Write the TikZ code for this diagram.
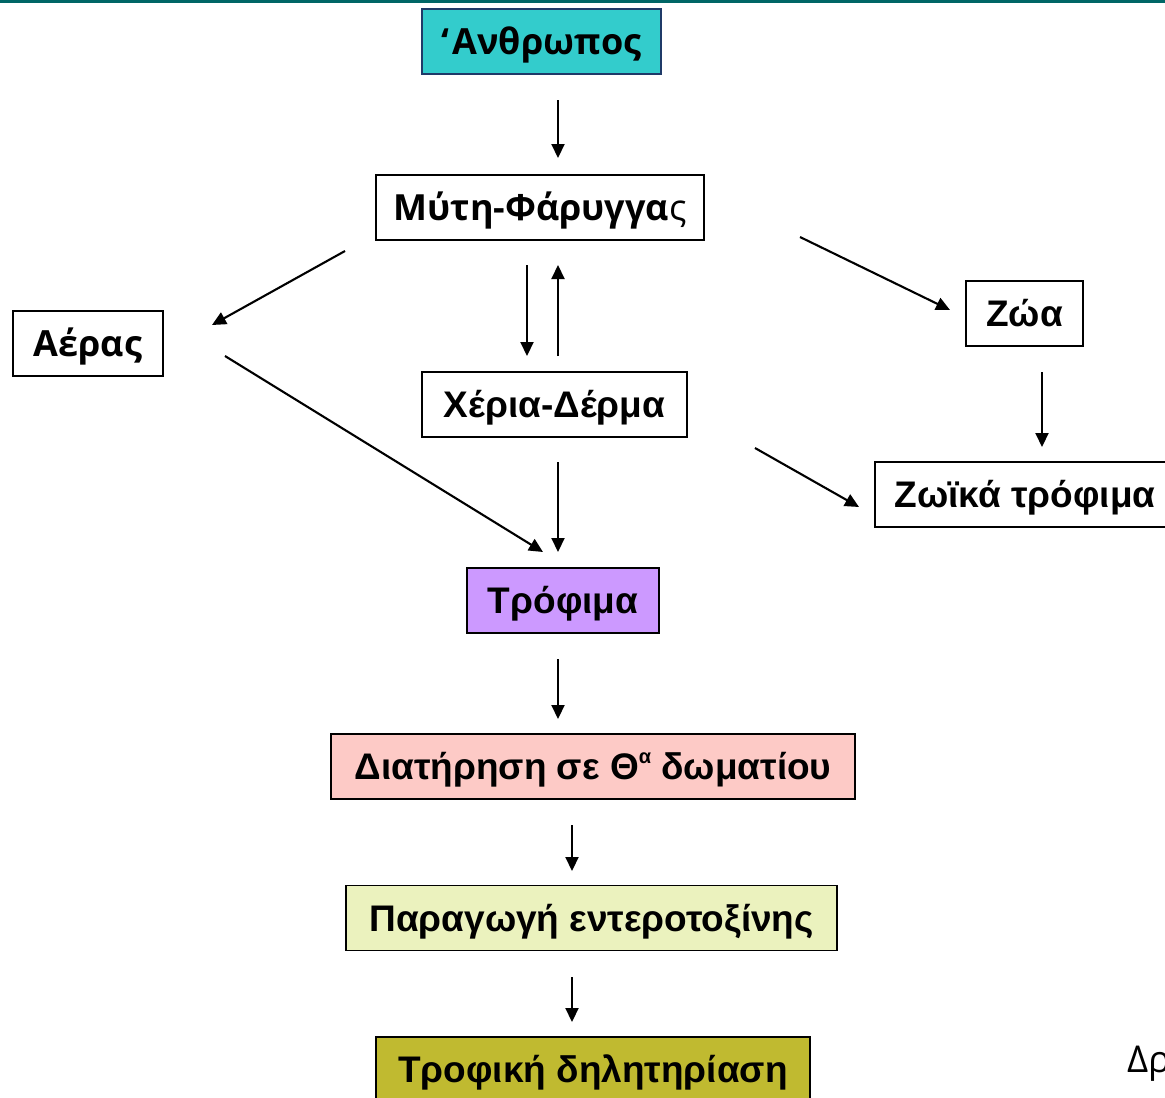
\documentclass[tikz,border=0pt]{standalone}
\usepackage{fontspec}
\setmainfont{Liberation Sans}
\newfontfamily\osans{Open Sans}
\usetikzlibrary{arrows.meta}
\definecolor{topline}{HTML}{006666}
\definecolor{cyanfill}{HTML}{33CCCC}
\definecolor{navyline}{HTML}{1F3A68}
\definecolor{violetfill}{HTML}{CC99FF}
\definecolor{pinkfill}{HTML}{FDCAC6}
\definecolor{limefill}{HTML}{EBF2BE}
\definecolor{olivefill}{HTML}{C0BA30}
\begin{document}
\begin{tikzpicture}[x=1pt,y=-1pt,
  box/.style={draw=black,line width=1.5pt,minimum height=65pt,inner sep=0pt,
    text height=26.5pt,text depth=0pt,
    font=\fontsize{37}{42}\selectfont\bfseries},
  obox/.style={box,text height=25.7pt,font=\fontsize{36}{42}\selectfont\osans\bfseries},
  arr/.style={line width=2.1pt,-{Triangle[length=14pt,width=13pt]}}]
\clip (0,0) rectangle (1165,1098);
\useasboundingbox (0,0) rectangle (1165,1098);
\fill[topline] (0,0) rectangle (1165,3);
% nodes
\node[obox,fill=cyanfill,draw=navyline,minimum width=239pt] (anth) at (541.5,41.5) {‘\hspace{3pt}Ανθρωπος};
\node[obox,minimum width=328pt] (myti) at (540,207.5) {Μύτη-Φάρυγγα{\mdseries ς}};
\node[obox,minimum width=150pt] (aeras) at (88,343.5) {Αέρας};
\node[box,minimum width=117pt] (zoa) at (1024.5,313.5) {Ζώα};
\node[box,minimum width=265pt] (cheria) at (554.5,404.5) {Χέρια-Δέρμα};
\node[box,minimum width=300pt] (zoika) at (1025,494.5) {Ζωϊκά τρόφιμα};
\node[box,fill=violetfill,minimum width=192pt] (trofima) at (563,600.5) {Τρόφιμα};
\node[box,fill=pinkfill,minimum width=524pt] (diat) at (593,766.5) {Διατήρηση σε Θ\raisebox{0.45em}{\fontsize{20}{22}\selectfont α} δωματίου};
\node[box,fill=limefill,minimum width=491pt] (parag) at (591.5,918) {Παραγωγή εντεροτοξίνης};
\node[box,fill=olivefill,minimum width=434pt] (trofiki) at (593,1069.5) {Τροφική δηλητηρίαση};
\node[anchor=base west,inner sep=0pt,font=\fontsize{37}{40}\selectfont\osans] (dr) at (1127,1072) {Δρ};
% connector end points
\coordinate (a1s) at (558,100);  \coordinate (a1e) at (558,158);
\coordinate (a2s) at (345,251);  \coordinate (a2e) at (212,325);
\coordinate (a3s) at (800,237);  \coordinate (a3e) at (950,310);
\coordinate (a4s) at (527,265);  \coordinate (a4e) at (527,356);
\coordinate (a5s) at (558,356);  \coordinate (a5e) at (558,265);
\coordinate (a6s) at (225,356);  \coordinate (a6e) at (543,552);
\coordinate (a7s) at (558,462);  \coordinate (a7e) at (558,552);
\coordinate (a8s) at (755,448);  \coordinate (a8e) at (859,507);
\coordinate (a9s) at (1042,372); \coordinate (a9e) at (1042,447);
\coordinate (a10s) at (558,659); \coordinate (a10e) at (558,719);
\coordinate (a11s) at (572,825); \coordinate (a11e) at (572,871);
\coordinate (a12s) at (572,977); \coordinate (a12e) at (572,1022);
\draw[arr] (a1s) -- (a1e);
\draw[arr] (a2s) -- (a2e);
\draw[arr] (a3s) -- (a3e);
\draw[arr] (a4s) -- (a4e);
\draw[arr] (a5s) -- (a5e);
\draw[arr] (a6s) -- (a6e);
\draw[arr] (a7s) -- (a7e);
\draw[arr] (a8s) -- (a8e);
\draw[arr] (a9s) -- (a9e);
\draw[arr] (a10s) -- (a10e);
\draw[arr] (a11s) -- (a11e);
\draw[arr] (a12s) -- (a12e);
\end{tikzpicture}
\end{document}
